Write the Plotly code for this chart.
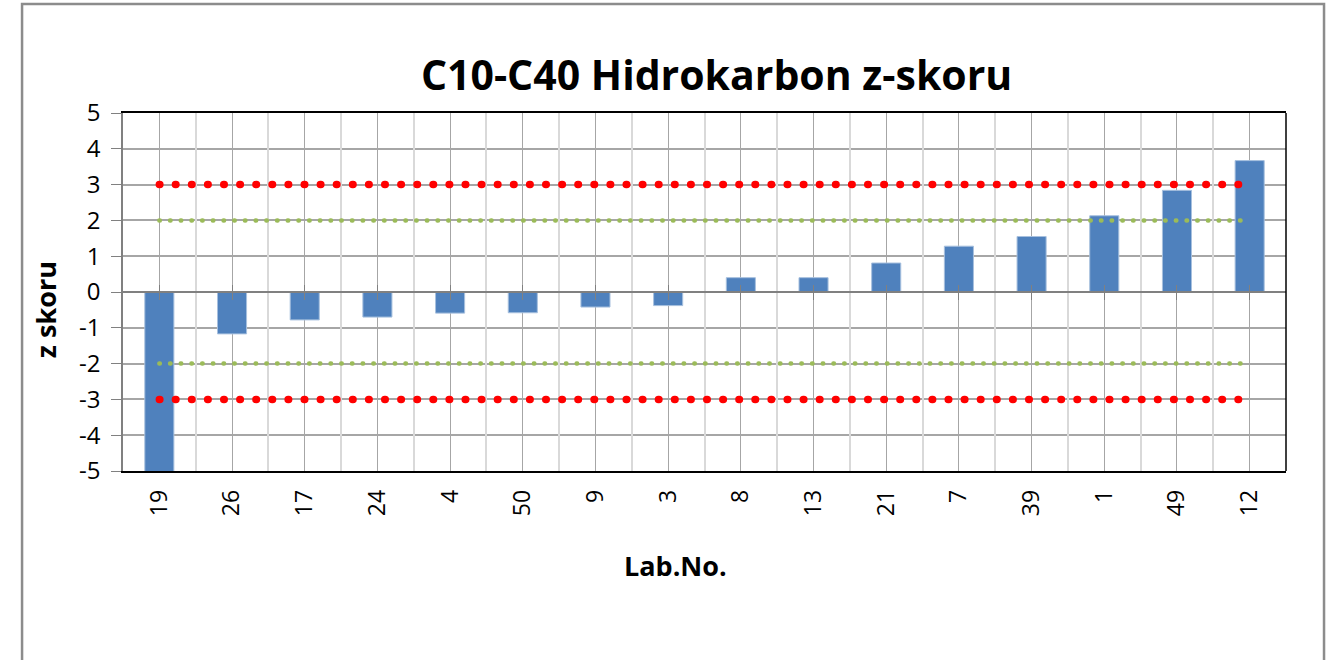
import plotly.graph_objects as go

# lab numbers (sorted by z-score) and their z-scores
labs = ['19', '26', '17', '24', '4', '50', '9', '3', '8', '13', '21', '7', '39', '1', '49', '12']
z_scores = [-5.2, -1.17, -0.78, -0.70, -0.59, -0.58, -0.42, -0.38, 0.40, 0.40, 0.81, 1.28, 1.55, 2.13, 2.84, 3.67]

# y-axis ticks (Excel style hyphen minus)
y_ticks = [5, 4, 3, 2, 1, 0, -1, -2, -3, -4, -5]
y_tick_text = ['5', '4', '3', '2', '1', '0', '-1', '-2', '-3', '-4', '-5']

# action / warning limits
upper_action = [3] * len(labs)
lower_action = [-3] * len(labs)
upper_warn = [2] * len(labs)
lower_warn = [-2] * len(labs)

FONT = 'Open Sans'
BAR = '#4f81bd'
RED = '#ff0000'
GREEN = '#9bbb59'

fig = go.Figure()

fig.add_trace(go.Bar(
    x=labs, y=z_scores, width=0.4,
    marker=dict(color=BAR, line=dict(color='#a7c0de', width=1)),
    showlegend=False,
))

for vals in (upper_warn, lower_warn):
    fig.add_trace(go.Scatter(
        x=labs, y=vals, mode='lines',
        line=dict(color=GREEN, width=4.5, dash='0.5px,10.2px'),
        showlegend=False, hoverinfo='skip',
    ))

for vals in (upper_action, lower_action):
    fig.add_trace(go.Scatter(
        x=labs, y=vals, mode='lines',
        line=dict(color=RED, width=7.5, dash='0.5px,15.6px'),
        showlegend=False, hoverinfo='skip',
    ))

fig.update_layout(
    width=1332, height=660,
    margin=dict(l=123, r=46, t=113, b=189),
    paper_bgcolor='white', plot_bgcolor='white',
    font=dict(family=FONT, color='#000000', size=21),
    title=dict(text='<b>C10-C40 Hidrokarbon z-skoru</b>', x=0.538, xanchor='center',
               y=0.886, yanchor='middle', font=dict(size=41, family=FONT)),
    bargap=0.6,
    xaxis=dict(
        type='category', range=[-0.5, 15.5], tickangle=-90,
        showgrid=True, gridcolor='#a6a6a6', gridwidth=1,
        showline=True, linecolor='#000000', linewidth=1.5, mirror=True,
        ticks='', tickfont=dict(size=23), zeroline=False, ticklabelstandoff=8,
    ),
    xaxis2=dict(
        type='linear', range=[0, 16], dtick=1, overlaying='x', anchor='y',
        showgrid=True, gridcolor='#d9d9d9', gridwidth=2,
        showticklabels=False, ticks='', showline=False, zeroline=False,
    ),
    xaxis3=dict(
        type='linear', range=[-0.5, 15.5], tickvals=list(range(16)), overlaying='x',
        anchor='free', position=0.5, side='bottom',
        ticks='outside', ticklen=7, tickcolor='#808080', tickwidth=1,
        showticklabels=False, showgrid=False, zeroline=False,
        showline=True, linecolor='#808080', linewidth=1.5,
    ),
    xaxis4=dict(
        type='linear', range=[-0.5, 15.5], tickvals=list(range(16)), overlaying='x',
        anchor='free', position=0.5, side='bottom',
        ticks='inside', ticklen=7, tickcolor='#808080', tickwidth=1,
        showticklabels=False, showgrid=False, zeroline=False, showline=False,
    ),
    yaxis=dict(
        range=[-5, 5], tickvals=y_ticks, ticktext=y_tick_text,
        showgrid=True, gridcolor='#a6a6a6', gridwidth=1.5,
        zeroline=False, showline=True, linecolor='#808080', linewidth=1.5,
        ticks='outside', ticklen=10, tickcolor='#808080', tickfont=dict(size=24),
        ticklabelstandoff=6,
    ),
    shapes=[
        dict(type='line', xref='paper', yref='paper', x0=1, x1=1, y0=0, y1=1,
             line=dict(color='#000000', width=1.5)),
        dict(type='rect', xref='paper', yref='paper', x0=-0.0868, x1=1.0327,
             y0=-0.56, y1=1.3045, line=dict(color='#8c8c8c', width=2.5), layer='below'),
    ],
    annotations=[
        dict(text='<b>z skoru</b>', xref='paper', yref='paper', x=-0.066, y=0.45,
             textangle=-90, showarrow=False, font=dict(size=27, family=FONT),
             xanchor='center', yanchor='middle'),
        dict(text='<b>Lab.No.</b>', xref='paper', yref='paper', x=0.475, y=-0.265,
             showarrow=False, font=dict(size=27, family=FONT),
             xanchor='center', yanchor='middle'),
    ],
)

# invisible helpers so the overlay axes get drawn
for ax in ('x2', 'x3', 'x4'):
    fig.add_trace(go.Scatter(x=[None], y=[None], xaxis=ax, yaxis='y',
                             showlegend=False, hoverinfo='skip'))

# round line caps turn the short dashes into dots; drop the page margin
page_fix = """
var s = document.createElement('style');
s.innerHTML = 'body { margin: 0 !important; } .scatterlayer .js-line { stroke-linecap: round !important; }';
document.head.appendChild(s);
"""

fig.write_html("out.html", post_script=page_fix, config={'displayModeBar': False})
